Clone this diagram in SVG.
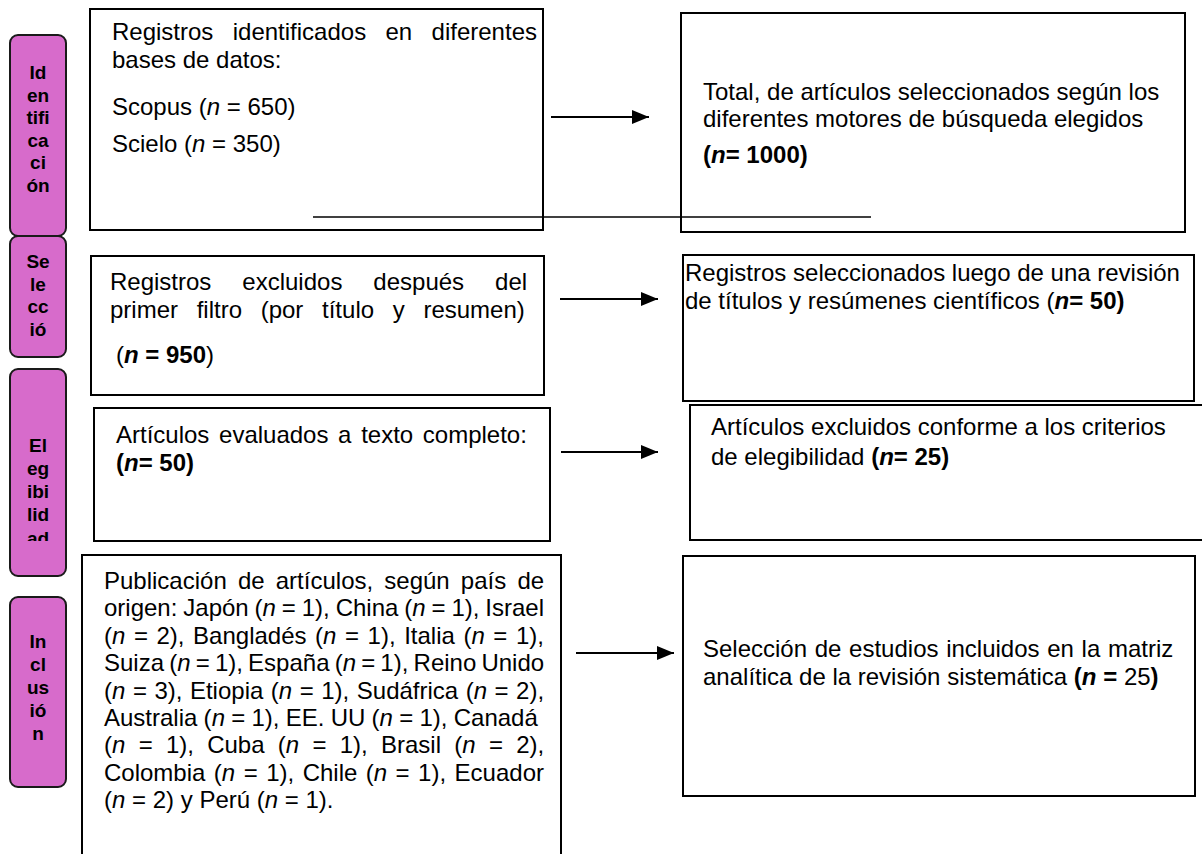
<svg xmlns="http://www.w3.org/2000/svg" width="1202" height="854" viewBox="0 0 1202 854">
<style>
.box{fill:#fff;stroke:#000;stroke-width:2}
.tag{fill:#D76BCB;stroke:#1a1a1a;stroke-width:2}
.tt{font-family:"Liberation Sans",Arial,sans-serif;font-size:19px;font-weight:bold;fill:#000;text-anchor:middle}
.t{font-family:"Liberation Sans",Arial,sans-serif;font-size:24px;fill:#000}
.b{font-weight:bold}
.i{font-style:italic}
.ln{stroke:#000;stroke-width:2;fill:none}
</style>
<defs>
<marker id="ah" markerUnits="userSpaceOnUse" markerWidth="17" markerHeight="15" refX="17" refY="7" orient="auto"><path d="M0,0 L17,7 L0,14 z" fill="#000"/></marker>
<clipPath id="c3"><rect x="10" y="369" width="56" height="172"/></clipPath>
</defs>

<g id="connectors">
<line class="ln" x1="551" y1="117" x2="649" y2="117" marker-end="url(#ah)"/>
<line class="ln" x1="560" y1="299" x2="658" y2="299" marker-end="url(#ah)"/>
<line class="ln" x1="561" y1="452" x2="658" y2="452" marker-end="url(#ah)"/>
<line class="ln" x1="576" y1="653" x2="674" y2="653" marker-end="url(#ah)"/>
</g>

<g id="stage-identificacion">
<rect class="tag" x="10" y="35" width="56" height="201" rx="8"/>
<text class="tt" x="38" y="79">Id</text>
<text class="tt" x="38" y="101.5">en</text>
<text class="tt" x="38" y="124">tifi</text>
<text class="tt" x="38" y="146.5">ca</text>
<text class="tt" x="38" y="169">ci</text>
<text class="tt" x="38" y="191.5">ón</text>
</g>
<g id="stage-seleccion">
<rect class="tag" x="10" y="236" width="56" height="121" rx="8"/>
<text class="tt" x="38" y="268">Se</text>
<text class="tt" x="38" y="290.5">le</text>
<text class="tt" x="38" y="313">cc</text>
<text class="tt" x="38" y="335.5">ió</text>
</g>
<g id="stage-elegibilidad">
<rect class="tag" x="10" y="369" width="56" height="207" rx="8"/>
<g clip-path="url(#c3)">
<text class="tt" x="38" y="452">El</text>
<text class="tt" x="38" y="475">eg</text>
<text class="tt" x="38" y="498">ibi</text>
<text class="tt" x="38" y="521">lid</text>
<text class="tt" x="38" y="545">ad</text>
</g>
</g>
<g id="stage-inclusion">
<rect class="tag" x="10" y="597" width="56" height="190" rx="8"/>
<text class="tt" x="38" y="648">In</text>
<text class="tt" x="38" y="671">cl</text>
<text class="tt" x="38" y="694">us</text>
<text class="tt" x="38" y="717">ió</text>
<text class="tt" x="38" y="740">n</text>
</g>

<g id="registros-identificados">
<rect class="box" x="90" y="9" width="453" height="221"/>
<text class="t" x="112" y="40" word-spacing="12.7">Registros identificados en diferentes</text>
<text class="t" x="112" y="68">bases de datos:</text>
<text class="t" x="112" y="115">Scopus (<tspan class="i">n</tspan> = 650)</text>
<text class="t" x="112" y="152">Scielo (<tspan class="i">n</tspan> = 350)</text>
</g>

<g id="total-articulos">
<rect class="box" x="681" y="13" width="504" height="219"/>
<text class="t" x="703" y="100">Total, de artículos seleccionados según los</text>
<text class="t" x="703" y="127">diferentes motores de búsqueda elegidos</text>
<text class="t b" x="703" y="163">(<tspan class="i">n</tspan>= 1000)</text>
</g>

<g id="connector-lines">
<line x1="313" y1="217" x2="871" y2="217" stroke="#000" stroke-width="1.6"/>
<line x1="866" y1="363" x2="866" y2="393" stroke="#000" stroke-width="2"/>
</g>

<g id="registros-excluidos">
<rect class="box" x="91" y="256" width="453" height="139"/>
<text class="t" x="110" y="290" word-spacing="24.3">Registros excluidos después del</text>
<text class="t" x="110" y="318" word-spacing="12">primer filtro (por título y resumen)</text>
<text class="t" x="116" y="363">(<tspan class="b"><tspan class="i">n</tspan> = 950</tspan>)</text>
</g>

<g id="registros-seleccionados">
<rect class="box" x="683" y="255" width="511" height="146"/>
<text class="t" x="685" y="281">Registros seleccionados luego de una revisión</text>
<text class="t" x="685" y="309">de títulos y resúmenes científicos (<tspan class="b i">n</tspan><tspan class="b">= 50)</tspan></text>
</g>

<g id="articulos-excluidos">
<rect class="box" x="690" y="405" width="525" height="135"/>
<text class="t" x="711" y="435">Artículos excluidos conforme a los criterios</text>
<text class="t" x="711" y="465">de elegibilidad <tspan class="b">(<tspan class="i">n</tspan>= 25)</tspan></text>
</g>

<g id="articulos-evaluados">
<rect class="box" x="94" y="408" width="456" height="133"/>
<text class="t" x="116" y="443" word-spacing="3">Artículos evaluados a texto completo:</text>
<text class="t b" x="116" y="471">(<tspan class="i">n</tspan>= 50)</text>
</g>

<g id="publicacion-articulos">
<rect class="box" x="82" y="555" width="479" height="320"/>
<text class="t" x="104" y="589" word-spacing="4.5">Publicación de artículos, según país de</text>
<text class="t" x="104" y="616.4" word-spacing="-0.77">origen: Japón (<tspan class="i">n</tspan> = 1), China (<tspan class="i">n</tspan> = 1), Israel</text>
<text class="t" x="104" y="643.8" word-spacing="1.9">(<tspan class="i">n</tspan> = 2), Bangladés (<tspan class="i">n</tspan> = 1), Italia (<tspan class="i">n</tspan> = 1),</text>
<text class="t" x="104" y="671.2" word-spacing="-1.5">Suiza (<tspan class="i">n</tspan> = 1), España (<tspan class="i">n</tspan> = 1), Reino Unido</text>
<text class="t" x="104" y="698.6" word-spacing="0.85">(<tspan class="i">n</tspan> = 3), Etiopia (<tspan class="i">n</tspan> = 1), Sudáfrica (<tspan class="i">n</tspan> = 2),</text>
<text class="t" x="104" y="726" word-spacing="-0.42">Australia (<tspan class="i">n</tspan> = 1), EE. UU (<tspan class="i">n</tspan> = 1), Canadá</text>
<text class="t" x="104" y="753.4" word-spacing="6.6">(<tspan class="i">n</tspan> = 1), Cuba (<tspan class="i">n</tspan> = 1), Brasil (<tspan class="i">n</tspan> = 2),</text>
<text class="t" x="104" y="780.8" word-spacing="1.8">Colombia (<tspan class="i">n</tspan> = 1), Chile (<tspan class="i">n</tspan> = 1), Ecuador</text>
<text class="t" x="104" y="808.2">(<tspan class="i">n</tspan> = 2) y Perú (<tspan class="i">n</tspan> = 1).</text>
</g>

<g id="seleccion-estudios">
<rect class="box" x="683" y="556" width="512" height="240"/>
<text class="t" x="703" y="657" word-spacing="1">Selección de estudios incluidos en la matriz</text>
<text class="t" x="703" y="685">analítica de la revisión sistemática <tspan class="b">(<tspan class="i">n</tspan> = </tspan>25<tspan class="b">)</tspan></text>
</g>
</svg>
